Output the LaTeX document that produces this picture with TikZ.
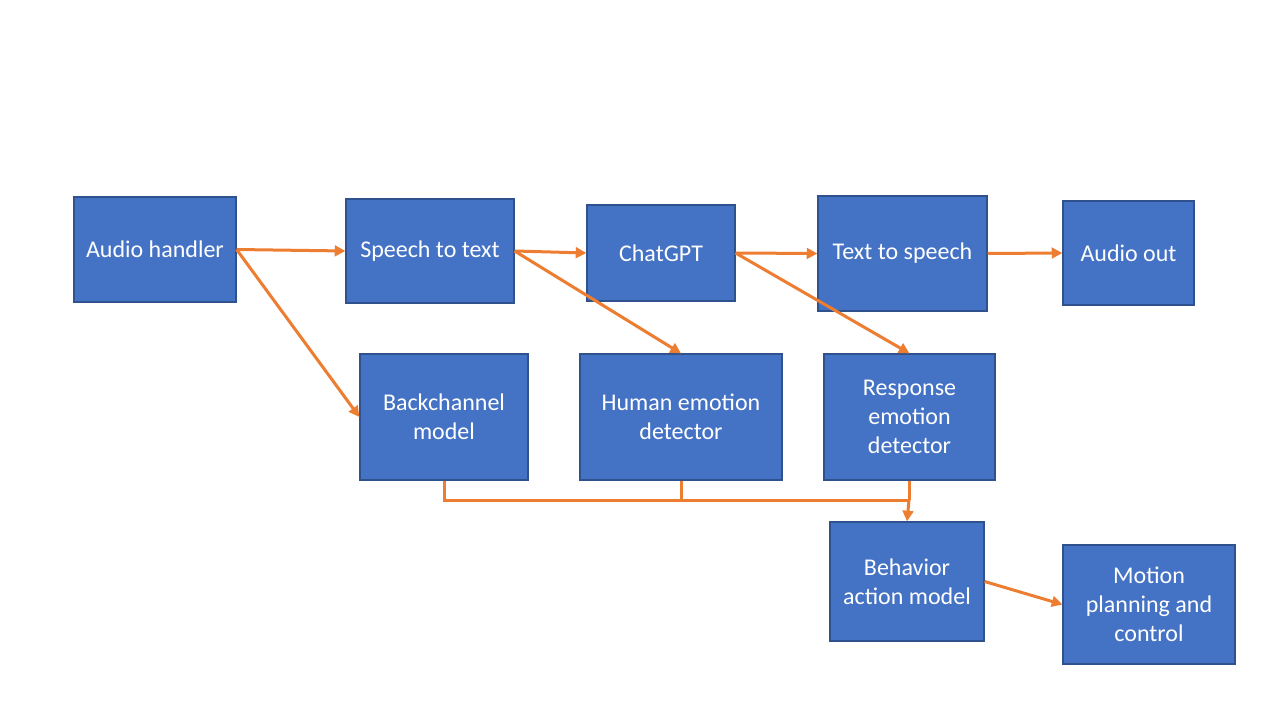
\documentclass[tikz,border=0pt]{standalone}
\usepackage{fontspec}
\setmainfont{Carlito}
\usetikzlibrary{arrows.meta}
\definecolor{boxfill}{HTML}{4472C4}
\definecolor{boxline}{HTML}{2F528F}
\definecolor{arr}{HTML}{ED7D31}
\begin{document}
\begin{tikzpicture}[x=0.75pt,y=-0.75pt,
  blk/.style={draw=boxline,line width=0.9pt,fill=boxfill,text=white,align=center,
    inner sep=2pt,font=\fontsize{18pt}{21.75pt}\selectfont},
  conn/.style={draw=arr,line width=2.25pt,-{Triangle[length=8pt,width=8pt]}},
  plain/.style={draw=arr,line width=2.25pt}]
\useasboundingbox (0,0) rectangle (1280,720);
\fill[white] (0,0) rectangle (1280,720);
\node[blk,minimum width=162*0.75pt,minimum height=105*0.75pt] (ah) at (155,249.5) {Audio handler};
\node[blk,minimum width=168*0.75pt,minimum height=104*0.75pt] (stt) at (430,251) {Speech to text};
\node[blk,minimum width=148*0.75pt,minimum height=96*0.75pt] (gpt) at (661,253) {ChatGPT};
\node[blk,minimum width=169*0.75pt,minimum height=115*0.75pt] (tts) at (902.5,253.5) {Text to speech};
\node[blk,minimum width=131*0.75pt,minimum height=104*0.75pt] (ao) at (1128.5,253) {Audio out};
\node[blk,minimum width=168*0.75pt,minimum height=126*0.75pt] (bc) at (444,417) {Backchannel\\model};
\node[blk,minimum width=202*0.75pt,minimum height=126*0.75pt] (hed) at (681,417) {Human emotion\\detector};
\node[blk,minimum width=171*0.75pt,minimum height=126*0.75pt] (red) at (909.5,417) {Response\\emotion\\detector};
\node[blk,minimum width=154*0.75pt,minimum height=119*0.75pt] (bam) at (907,581.5) {Behavior\\action model};
\node[blk,minimum width=172*0.75pt,minimum height=119*0.75pt] (mpc) at (1149,604.5) {Motion\\planning and\\control};
\draw[conn] (ah.east) -- (stt.west);
\draw[conn] (ah.east) -- (bc.west);
\draw[conn] (stt.east) -- (gpt.west);
\draw[conn] (stt.east) -- (hed.north);
\draw[conn] (gpt.east) -- (tts.west);
\draw[conn] (gpt.east) -- (red.north);
\draw[conn] (tts.east) -- (ao.west);
\coordinate (j) at (909,500);
\draw[plain] (bc.south) -- (bc.south |- j) -- (j);
\draw[plain] (hed.south) -- (hed.south |- j);
\draw[plain] (red.south) -- (red.south |- j);
\draw[conn] (j) -- (bam.north);
\draw[conn] (bam.east) -- (mpc.west);
\end{tikzpicture}
\end{document}
